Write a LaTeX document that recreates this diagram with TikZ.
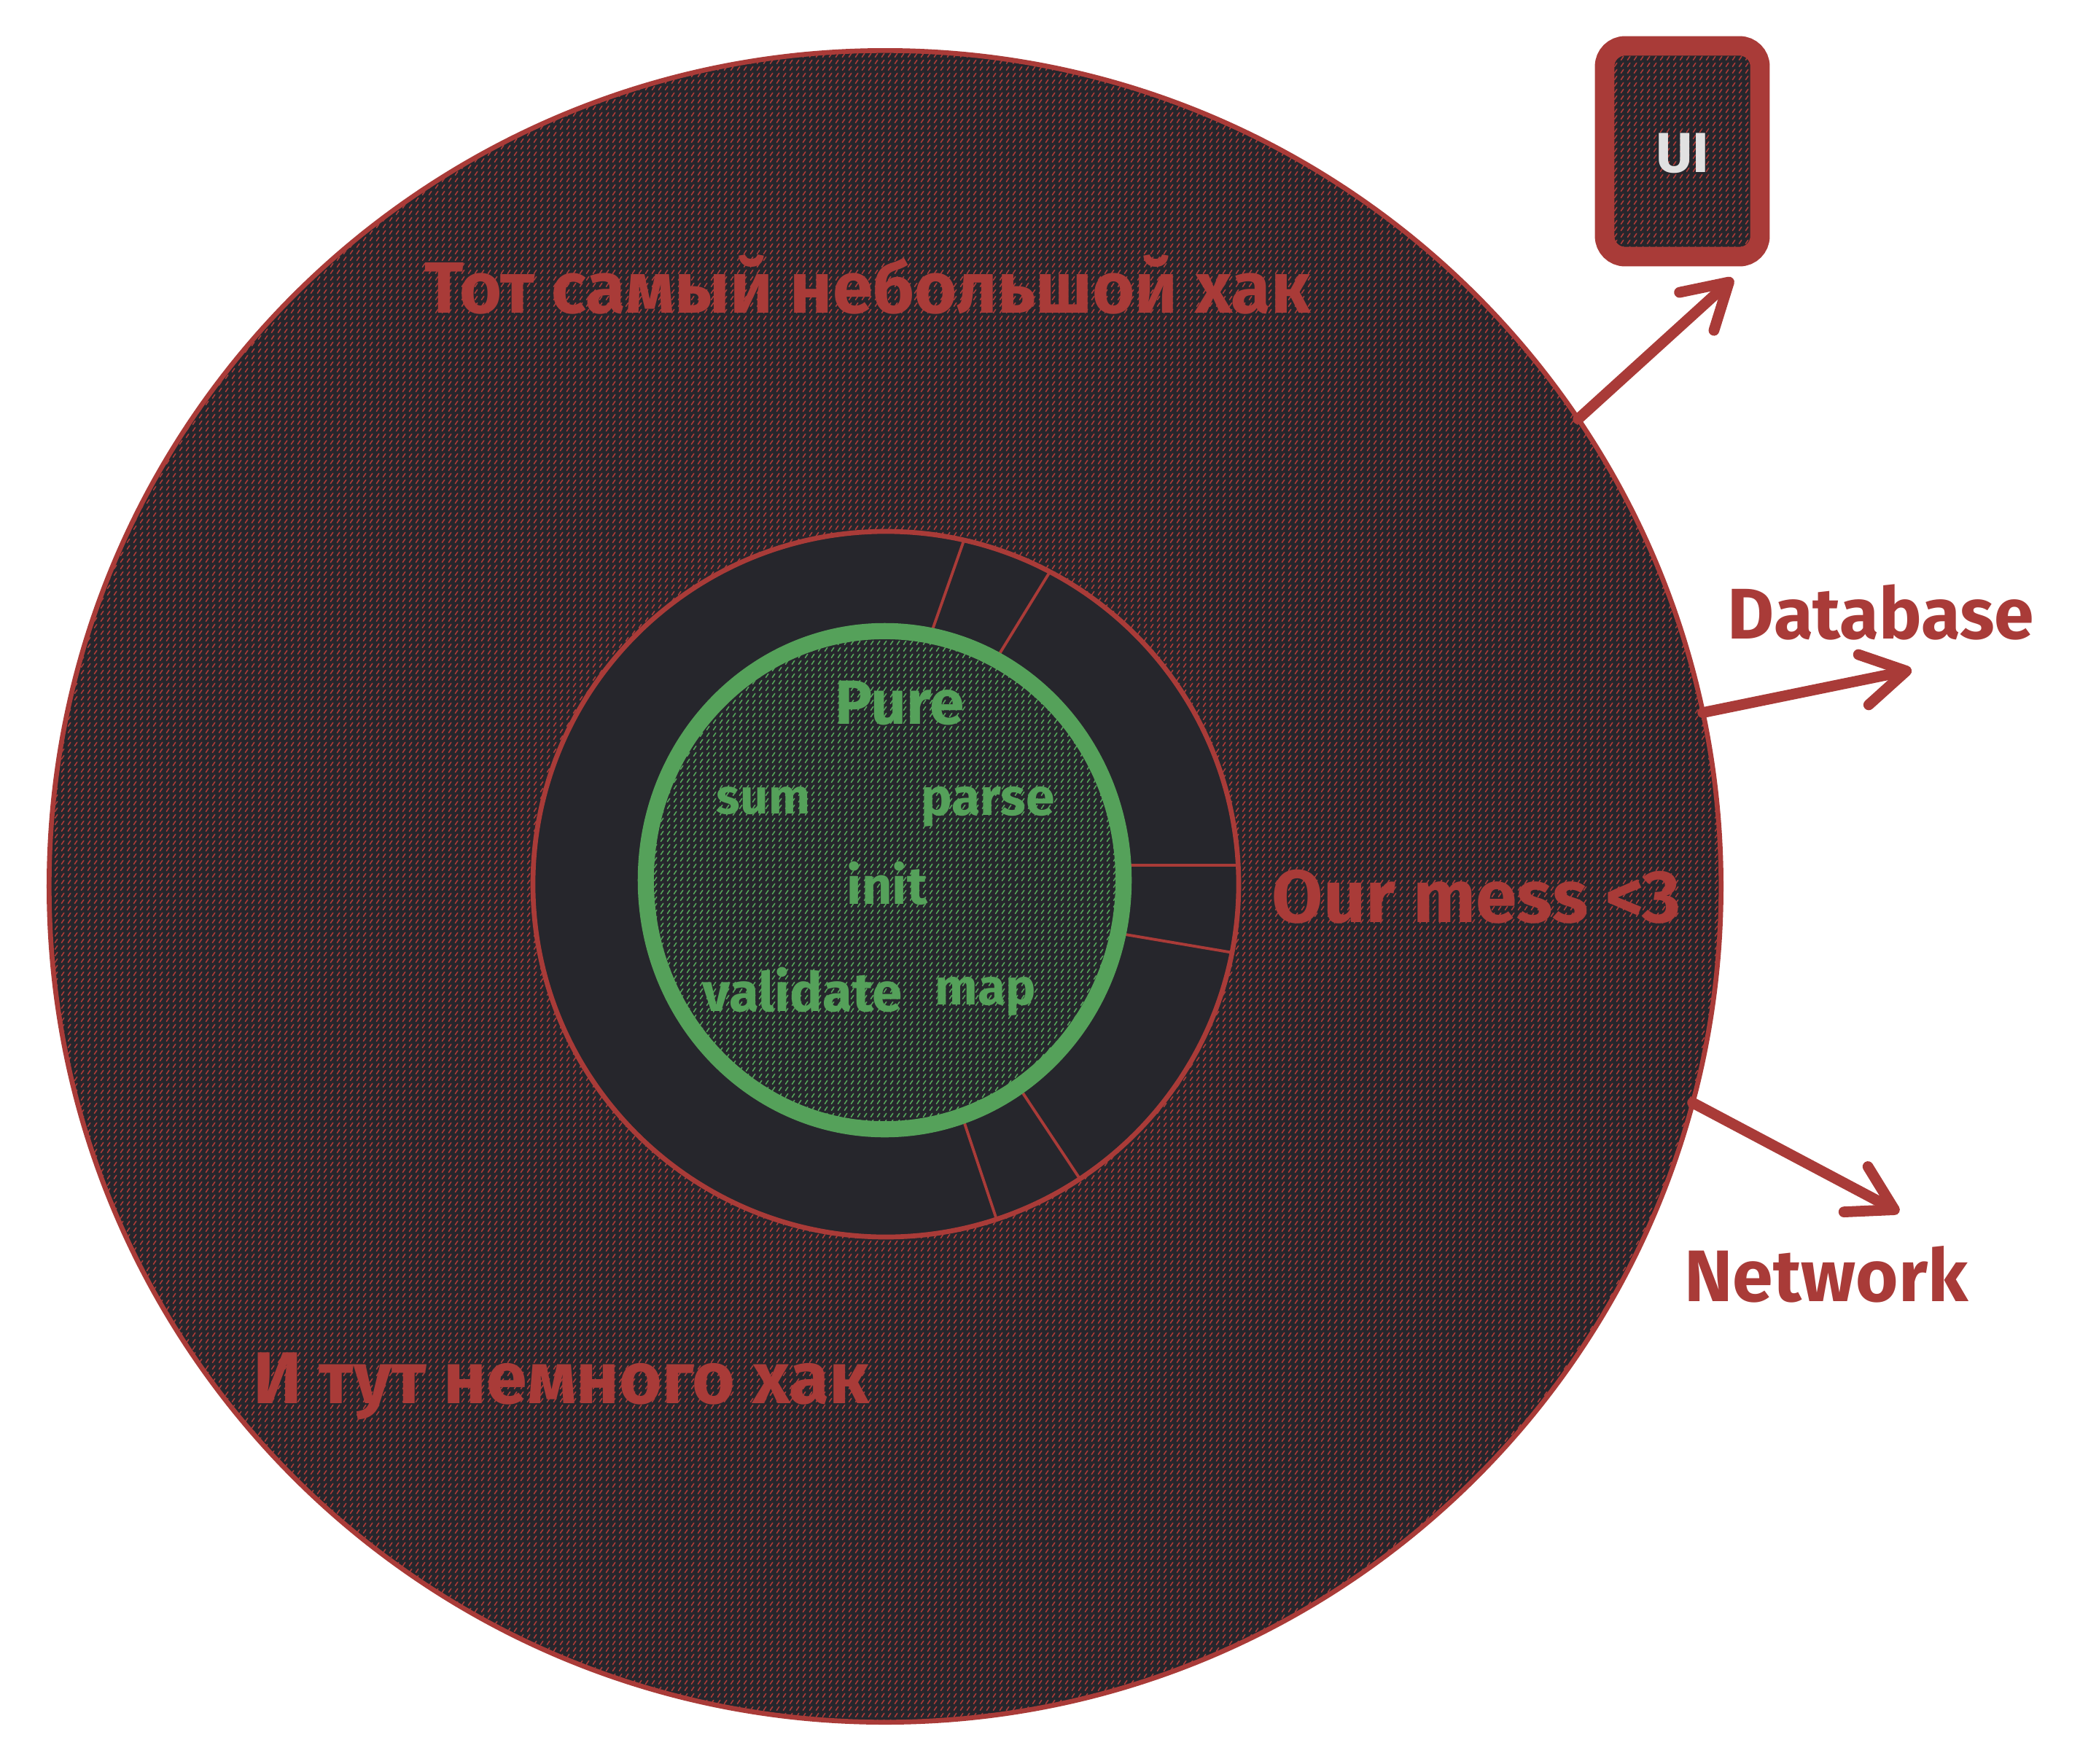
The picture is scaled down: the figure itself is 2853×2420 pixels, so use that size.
\documentclass[tikz,border=0pt]{standalone}
\usepackage{fontspec}
\usepackage{graphicx}
\setmainfont{Fira Sans}
\usetikzlibrary{arrows.meta,patterns.meta,shapes.geometric}
\definecolor{myred}{HTML}{A93B38}
\definecolor{mygreen}{HTML}{55A15A}
\definecolor{dark}{HTML}{26262C}
\definecolor{uitext}{HTML}{E1E1E1}
\tikzdeclarepattern{
  name=dashhatch,
  type=uncolored,
  bounding box={(0pt,0pt) and (2.6pt,2.6pt)},
  tile size={(2.6pt,2.6pt)},
  code={\draw[line width=0.5pt, line cap=round] (0.75pt,0.5pt) -- (1.8pt,2.05pt);}
}
\newcommand{\fitw}[2]{\resizebox{#1}{!}{#2}}
\begin{document}
\begin{tikzpicture}[x=0.01cm, y=-0.01cm,
  lbl/.style={inner sep=0pt, outer sep=0pt, font=\bfseries},
  arrowline/.style={draw=myred, line width=4.2pt, line cap=round, line join=round,
    -{Straight Barb[length=17pt,width=20pt,round]}},
  divline/.style={draw=myred, line width=1.1pt, line cap=round}]
\fill[white] (0,0) rectangle (2853,2420);
\useasboundingbox (0,0) rectangle (2853,2420);

% outer layer
\node[circle, draw=myred, line width=1.9pt, preaction={fill=dark},
  pattern=dashhatch, pattern color=myred,
  minimum size=22.92cm, inner sep=0pt, outer sep=0pt] (outer) at (1214,1216) {};

% middle ring
\node[circle, fill=dark, minimum size=9.68cm, inner sep=0pt, outer sep=0pt] (ring) at (1215,1213) {};
\begin{scope}
  \clip (1215,1213) circle[radius=484];
  \draw[divline] (1274,878) -- (1330,719);
  \draw[divline] (1361,913) -- (1452,765);
  \draw[divline] (1530,1187) -- (1730,1187);
  \draw[divline] (1520,1278) -- (1715,1311);
  \draw[divline] (1388,1477) -- (1495,1638);
  \draw[divline] (1315,1517) -- (1375,1697);
\end{scope}
\draw[myred, line width=1.9pt] (1215,1213) circle[radius=484];

% pure core
\node[ellipse, draw=mygreen, line width=6.3pt, preaction={fill=dark},
  pattern=dashhatch, pattern color=mygreen,
  minimum width=6.55cm, minimum height=6.83cm, inner sep=0pt, outer sep=0pt] (pure) at (1213.5,1207.5) {};

% UI box
\node[rectangle, rounded corners=8pt, draw=myred, line width=7.6pt, preaction={fill=dark},
  pattern=dashhatch, pattern color=myred,
  minimum width=2.13cm, minimum height=2.89cm, inner sep=0pt, outer sep=0pt] (ui) at (2307.5,207.5) {};
\node[lbl, text=uitext] (uilbl) at (2308,210) {\fitw{0.73cm}{UI}};

% texts
\node[lbl, text=myred] (hack1) at (1190,390) {\fitw{12.15cm}{Тот самый небольшой хак}};
\node[lbl, text=myred] (hack2) at (770,1902) {\fitw{8.45cm}{И тут немного хак}};
\node[lbl, text=myred] (mess) at (2025,1230) {\fitw{5.6cm}{Our mess <3}};
\node[lbl, text=myred] (db) at (2580,840) {\fitw{4.2cm}{Database}};
\node[lbl, text=myred] (net) at (2505,1748) {\fitw{3.89cm}{Network}};

\node[lbl, text=mygreen] (pureLbl) at (1234,965) {\fitw{1.77cm}{Pure}};
\node[lbl, text=mygreen] (sum) at (1047,1099) {\fitw{1.28cm}{sum}};
\node[lbl, text=mygreen] (parse) at (1355,1107) {\fitw{1.83cm}{parse}};
\node[lbl, text=mygreen] (init) at (1217,1212) {\fitw{1.10cm}{init}};
\node[lbl, text=mygreen] (validate) at (1101,1358) {\fitw{2.74cm}{validate}};
\node[lbl, text=mygreen] (map) at (1352,1367) {\fitw{1.38cm}{map}};

% arrows
\coordinate (uitip) at (2377,382);
\coordinate (dbtip) at (2622,919);
\coordinate (nwtip) at (2605,1663);
\draw[arrowline] (outer.34.6) -- (uitip);
\draw[arrowline] (outer.12) -- (dbtip);
\draw[arrowline] (outer.-15.9) -- (nwtip);
\end{tikzpicture}
\end{document}
